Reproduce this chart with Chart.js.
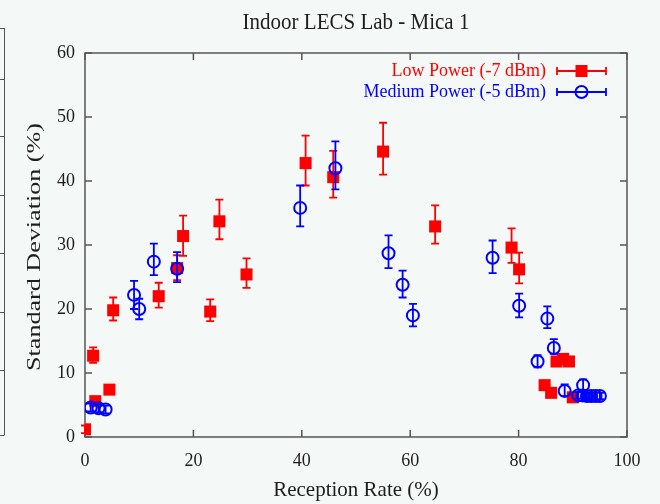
<!DOCTYPE html>
<html>
<head>
<meta charset="utf-8">
<title>Indoor LECS Lab - Mica 1</title>
<script src="https://cdn.jsdelivr.net/npm/chart.js@4/dist/chart.umd.min.js"></script>
<style>
    html, body { margin: 0; padding: 0; background: #f4f8f6; }
    #chartMica { display: block; }
</style>
</head>
<body>
<canvas id="chartMica" width="660" height="504"></canvas>
<script>
// Low Power (-7 dBm)
const lowX    = [0.0, 1.5, 1.9, 4.5, 5.2, 13.6, 17.0, 18.1, 23.1, 24.8, 29.8, 40.7, 45.8, 55.0, 64.6, 78.7, 80.1, 84.8, 86.0, 87.0, 88.2, 89.3, 90.0];
const lowY    = [1.2, 12.7, 5.6, 7.4, 19.8, 22.0, 26.4, 31.4, 19.6, 33.7, 25.4, 42.8, 40.6, 44.6, 32.9, 29.6, 26.2, 8.1, 6.9, 11.8, 12.2, 11.8, 6.2];
const lowYMin = [0.6, 11.6, 5.0, 6.8, 18.2, 20.2, 24.5, 28.3, 18.1, 30.9, 23.3, 39.3, 37.4, 41.0, 30.2, 27.2, 24.0, 7.5, 6.3, 11.2, 11.6, 11.2, 5.6];
const lowYMax = [1.8, 14.0, 6.2, 8.0, 21.8, 24.1, 28.4, 34.6, 21.5, 37.1, 27.9, 47.1, 44.7, 49.1, 36.2, 32.6, 28.8, 8.7, 7.5, 12.4, 12.8, 12.4, 6.8];

// Medium Power (-5 dBm)
const medX    = [1.05, 2.5, 3.8, 9.05, 10.0, 12.7, 17.0, 39.7, 46.2, 56.0, 58.6, 60.5, 75.2, 80.1, 83.5, 85.3, 86.5, 88.5, 91.9, 91.0, 91.8, 92.6, 93.4, 94.2, 95.0];
const medY    = [4.6, 4.5, 4.3, 22.2, 20.0, 27.4, 26.3, 35.8, 42.0, 28.7, 23.8, 19.0, 28.0, 20.5, 11.8, 18.5, 13.9, 7.2, 8.1, 6.5, 6.5, 6.4, 6.4, 6.4, 6.4];
const medYMin = [4.0, 3.9, 3.7, 20.0, 18.4, 25.3, 24.2, 32.9, 38.7, 26.4, 21.8, 17.3, 25.6, 18.7, 10.9, 17.0, 13.0, 6.4, 7.2, 6.0, 6.0, 5.9, 5.9, 5.9, 5.9];
const medYMax = [5.2, 5.1, 4.9, 24.4, 21.6, 30.2, 28.9, 39.3, 46.2, 31.5, 26.0, 20.8, 30.7, 22.4, 12.8, 20.4, 15.3, 8.2, 9.0, 7.0, 7.0, 6.9, 6.9, 6.9, 6.9];

const xTicks = [0, 20, 40, 60, 80, 100];
const yTicks = [0, 10, 20, 30, 40, 50, 60];

const TITULO = 'Indoor LECS Lab - Mica 1';
const TITULO_Y = 'Standard Deviation (%)';
const TITULO_X = 'Reception Rate (%)';

const ROJO = '#ff0000';
const AZUL = '#0000ff';
const TEXTO = '#1e1e1e';
const FONDO = '#f4f8f6';
const FUENTE = "'Liberation Serif', 'DejaVu Serif', serif";

function puntos(xs, ys) {
    return xs.map((x, i) => ({ x: x, y: ys[i] }));
}

// fondo + resto del grafico vecino recortado en el borde izquierdo
const fondoPlugin = {
    id: 'fondo',
    beforeDraw(chart) {
        const ctx = chart.ctx;
        ctx.save();
        ctx.fillStyle = FONDO;
        ctx.fillRect(0, 0, chart.width, chart.height);
        ctx.strokeStyle = '#555';
        ctx.lineWidth = 1;
        ctx.beginPath();
        ctx.moveTo(4.5, 28);
        ctx.lineTo(4.5, 435);
        [28, 79, 136, 195, 253, 312, 370, 435].forEach(y => {
            ctx.moveTo(0, y + 0.5);
            ctx.lineTo(4.5, y + 0.5);
        });
        ctx.stroke();
        ctx.restore();
    }
};

// marco con ticks hacia adentro (estilo gnuplot)
const marcoPlugin = {
    id: 'marco',
    beforeDatasetsDraw(chart) {
        const { ctx, chartArea: a, scales } = chart;
        const largo = 7;
        ctx.save();
        ctx.strokeStyle = '#555';
        ctx.lineWidth = 1.5;
        ctx.strokeRect(a.left, a.top, a.right - a.left, a.bottom - a.top);
        ctx.beginPath();
        xTicks.forEach(v => {
            const px = scales.x.getPixelForValue(v);
            ctx.moveTo(px, a.bottom);
            ctx.lineTo(px, a.bottom - largo);
            ctx.moveTo(px, a.top);
            ctx.lineTo(px, a.top + largo);
        });
        yTicks.forEach(v => {
            const py = scales.y.getPixelForValue(v);
            ctx.moveTo(a.left, py);
            ctx.lineTo(a.left + largo, py);
            ctx.moveTo(a.right, py);
            ctx.lineTo(a.right - largo, py);
        });
        ctx.stroke();
        ctx.restore();
    }
};

// titulo del grafico y del eje Y (el original viene estirado en vertical)
const titulosPlugin = {
    id: 'titulos',
    afterDraw(chart) {
        const { ctx, chartArea: a } = chart;
        ctx.save();
        ctx.fillStyle = TEXTO;
        ctx.textAlign = 'center';
        ctx.textBaseline = 'alphabetic';

        ctx.save();
        ctx.translate((a.left + a.right) / 2, 29);
        ctx.scale(1, 1.12);
        ctx.font = '21px ' + FUENTE;
        ctx.fillText(TITULO, 0, 0);
        ctx.restore();

        ctx.save();
        ctx.translate(40, (a.top + a.bottom) / 2 + 2);
        ctx.rotate(-Math.PI / 2);
        ctx.scale(1.45, 1);
        ctx.font = '18px ' + FUENTE;
        ctx.fillText(TITULO_Y, 0, 0);
        ctx.restore();

        ctx.restore();
    }
};

// barras de error verticales
const erroresPlugin = {
    id: 'errores',
    afterDatasetDraw(chart, args) {
        const ds = chart.data.datasets[args.index];
        if (!ds.errMin) return;
        const ctx = chart.ctx;
        const escalaY = chart.scales.y;
        const tapa = 4;
        ctx.save();
        ctx.strokeStyle = ds.borderColor;
        ctx.lineWidth = 1.8;
        ctx.beginPath();
        args.meta.data.forEach((p, i) => {
            const yLo = escalaY.getPixelForValue(ds.errMin[i]);
            const yHi = escalaY.getPixelForValue(ds.errMax[i]);
            ctx.moveTo(p.x, yLo);
            ctx.lineTo(p.x, yHi);
            ctx.moveTo(p.x - tapa, yLo);
            ctx.lineTo(p.x + tapa, yLo);
            ctx.moveTo(p.x - tapa, yHi);
            ctx.lineTo(p.x + tapa, yHi);
        });
        ctx.stroke();
        ctx.restore();
    }
};

// leyenda dentro del area, arriba a la derecha
const leyendaPlugin = {
    id: 'leyendaGnuplot',
    afterDraw(chart) {
        const { ctx, chartArea: a } = chart;
        const filas = [
            { ds: chart.data.datasets[0], y: a.top + 18 },
            { ds: chart.data.datasets[1], y: a.top + 39 }
        ];
        ctx.save();
        ctx.font = '18px ' + FUENTE;
        ctx.textAlign = 'right';
        ctx.textBaseline = 'middle';
        filas.forEach(f => {
            const color = f.ds.borderColor;
            ctx.fillStyle = color;
            ctx.fillText(f.ds.label, a.right - 81, f.y);
            const x0 = a.right - 70, x1 = a.right - 21, xm = (x0 + x1) / 2;
            ctx.strokeStyle = color;
            ctx.lineWidth = 1.8;
            ctx.beginPath();
            ctx.moveTo(x0, f.y); ctx.lineTo(x1, f.y);
            ctx.moveTo(x0, f.y - 4); ctx.lineTo(x0, f.y + 4);
            ctx.moveTo(x1, f.y - 4); ctx.lineTo(x1, f.y + 4);
            ctx.stroke();
            if (f.ds.pointStyle === 'rect') {
                ctx.fillRect(xm - 6, f.y - 6, 12, 12);
            } else {
                ctx.lineWidth = 2;
                ctx.beginPath();
                ctx.arc(xm, f.y, 6, 0, Math.PI * 2);
                ctx.stroke();
            }
        });
        ctx.restore();
    }
};

const ctxMica = document.getElementById('chartMica').getContext('2d');
const chartMica = new Chart(ctxMica, {
    type: 'scatter',
    data: {
        datasets: [{
            label: 'Low Power (-7 dBm)',
            data: puntos(lowX, lowY),
            errMin: lowYMin,
            errMax: lowYMax,
            pointStyle: 'rect',
            pointRadius: 8.5,
            backgroundColor: ROJO,
            borderColor: ROJO,
            borderWidth: 0,
            order: 1
        }, {
            label: 'Medium Power (-5 dBm)',
            data: puntos(medX, medY),
            errMin: medYMin,
            errMax: medYMax,
            pointStyle: 'circle',
            pointRadius: 6,
            backgroundColor: 'rgba(0,0,0,0)',
            borderColor: AZUL,
            borderWidth: 2,
            order: 0
        }]
    },
    options: {
        responsive: false,
        animation: false,
        devicePixelRatio: 1,
        layout: { padding: { left: 0, right: 33, top: 53, bottom: 0 } },
        plugins: {
            legend: { display: false },
            tooltip: { enabled: false },
            title: { display: false }
        },
        scales: {
            x: {
                type: 'linear',
                min: 0,
                max: 100,
                afterBuildTicks: s => { s.ticks = xTicks.map(v => ({ value: v })); },
                afterFit: s => { s.height = 67; },
                grid: { display: false, drawTicks: false },
                border: { display: false },
                ticks: {
                    color: TEXTO,
                    padding: 13,
                    font: { family: FUENTE, size: 18 }
                },
                title: {
                    display: true,
                    text: TITULO_X,
                    color: TEXTO,
                    font: { family: FUENTE, size: 21 },
                    padding: { top: 0, bottom: 1 }
                }
            },
            y: {
                type: 'linear',
                min: 0,
                max: 60,
                afterBuildTicks: s => { s.ticks = yTicks.map(v => ({ value: v })); },
                afterFit: s => { s.width = 85; },
                grid: { display: false, drawTicks: false },
                border: { display: false },
                ticks: {
                    color: TEXTO,
                    padding: 10,
                    font: { family: FUENTE, size: 18 }
                },
                title: { display: false }
            }
        }
    },
    plugins: [fondoPlugin, marcoPlugin, erroresPlugin, leyendaPlugin, titulosPlugin]
});
</script>
</body>
</html>
